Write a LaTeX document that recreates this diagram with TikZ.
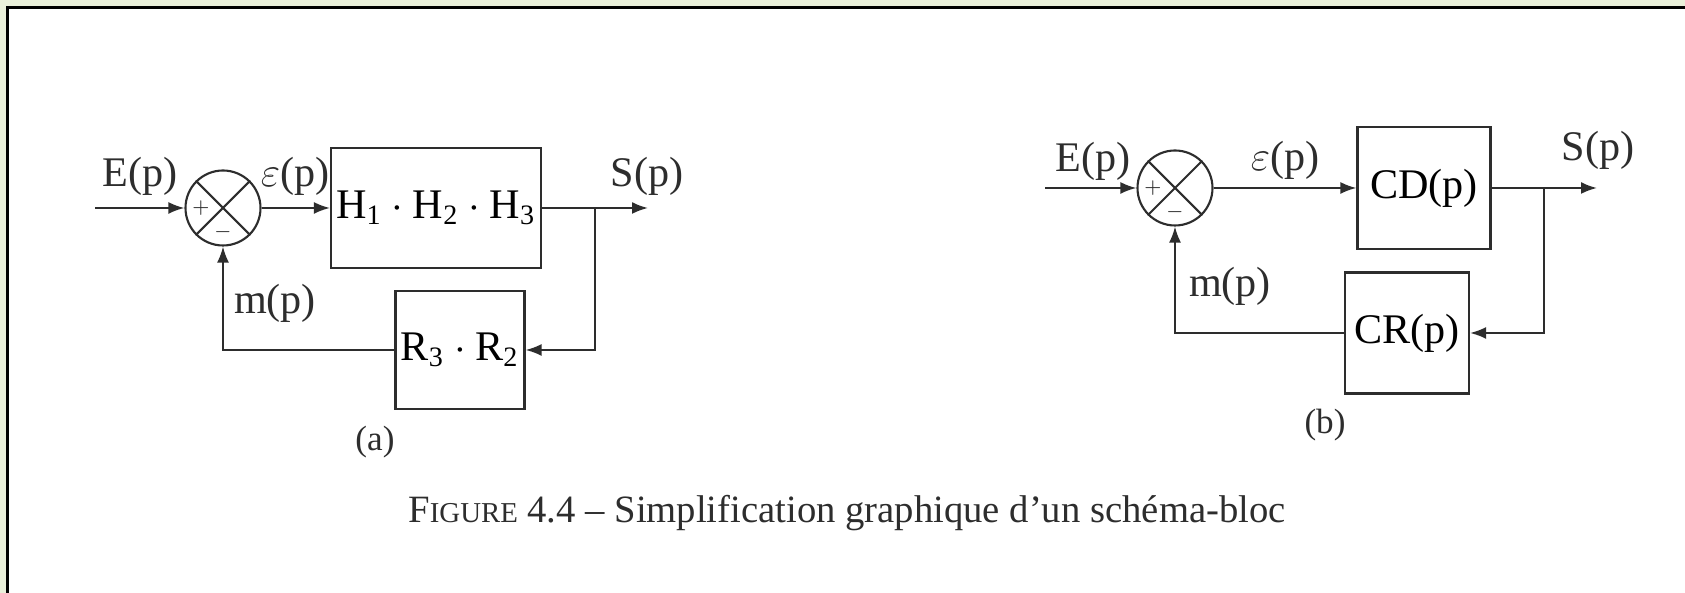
\documentclass[tikz,border=0pt]{standalone}
\usepackage{amsmath,amssymb}
\usepackage{fontspec}
\setmainfont{Liberation Serif}
\usepackage{xcolor}
\usepackage{tikz}
\usetikzlibrary{arrows.meta,positioning,calc}
\definecolor{pagegreen}{RGB}{234,240,218}
\definecolor{inkgray}{RGB}{45,45,45}
\newcommand{\fakesc}[2]{#1{\fontsize{8.2}{10}\selectfont #2}}
\tikzset{
	wire/.style={semithick, draw=inkgray},
	blk/.style={draw=inkgray, semithick, inner sep=0pt, align=center,
		font=\fontsize{12}{14}\selectfont},
	summ/.style={draw=inkgray, semithick, circle, inner sep=0pt, minimum size=7.5mm},
	sgn/.style={font=\tiny, inner sep=0pt, text=inkgray},
	lbl/.style={font=\fontsize{12}{14}\selectfont, inner sep=1pt, text=inkgray},
	sub/.style={font=\fontsize{10}{12}\selectfont, inner sep=1pt, text=inkgray},
}

\begin{document}
\begin{tikzpicture}[x=1cm, y=1cm, >={Latex[length=1.6mm,width=1.2mm]}]
	% page frame
	\useasboundingbox (0,0) rectangle (16.85,-5.93);
	\fill[pagegreen] (0,0) rectangle (16.85,-5.93);
	\fill[white] (0.073,-0.073) rectangle (16.9,-6.0);
	\draw[black, line width=0.75pt] (0.073,-6.0) -- (0.073,-0.073) -- (16.9,-0.073);
	% (a) loop with H1.H2.H3 and R3.R2
	\coordinate (ina) at (0.95,-2.08);
	\node[summ] at (2.23,-2.08) (suma) {};
	\node[blk, minimum width=2.10cm, minimum height=1.20cm] at (4.36,-2.08) (ha) {H\textsubscript{1}${}\cdot{}$H\textsubscript{2}${}\cdot{}$H\textsubscript{3}};
	\coordinate (bra) at (5.95,-2.08);
	\coordinate (outa) at (6.48,-2.08);
	\node[blk, minimum width=1.29cm, minimum height=1.18cm] at (4.60,-3.50) (ra) {R\textsubscript{3}${}\cdot{}$R\textsubscript{2}};
	\draw[wire] (suma.north west) -- (suma.south east) (suma.north east) -- (suma.south west);
	\node[sgn] at ($(suma.center)+(-0.22,0)$) (suma-p) {$+$};
	\node[sgn] at ($(suma.center)+(0,-0.24)$) (suma-m) {$-$};
	\draw[wire, ->] (ina) -- (suma.west);
	\draw[wire, ->] (suma.east) -- (ha.west);
	\draw[wire] (ha.east) -- (bra);
	\draw[wire, ->] (bra) -- (outa);
	\draw[wire, ->] (bra) |- (ra.east);
	\draw[wire, ->] (ra.west) -| (suma.south);
	\node[lbl] at (1.40,-1.76) (ea) {E(p)};
	\node[lbl] at (2.95,-1.76) (epsa) {$\varepsilon$(p)};
	\node[lbl] at (6.47,-1.76) (sa) {S(p)};
	\node[lbl] at (2.75,-3.03) (ma) {m(p)};
	\node[sub] at (3.75,-4.42) (capa) {(a)};
	% (b) loop with CD and CR
	\coordinate (inb) at (10.45,-1.88);
	\node[summ] at (11.75,-1.88) (sumb) {};
	\node[blk, minimum width=1.33cm, minimum height=1.22cm] at (14.24,-1.88) (cd) {CD(p)};
	\coordinate (brb) at (15.44,-1.88);
	\coordinate (outb) at (15.97,-1.88);
	\node[blk, minimum width=1.24cm, minimum height=1.21cm] at (14.07,-3.33) (cr) {CR(p)};
	\draw[wire] (sumb.north west) -- (sumb.south east) (sumb.north east) -- (sumb.south west);
	\node[sgn] at ($(sumb.center)+(-0.22,0)$) (sumb-p) {$+$};
	\node[sgn] at ($(sumb.center)+(0,-0.24)$) (sumb-m) {$-$};
	\draw[wire, ->] (inb) -- (sumb.west);
	\draw[wire, ->] (sumb.east) -- (cd.west);
	\draw[wire] (cd.east) -- (brb);
	\draw[wire, ->] (brb) -- (outb);
	\draw[wire, ->] (brb) |- (cr.east);
	\draw[wire, ->] (cr.west) -| (sumb.south);
	\node[lbl] at (10.93,-1.61) (eb) {E(p)};
	\node[lbl] at (12.85,-1.60) (epsb) {$\varepsilon$(p)};
	\node[lbl] at (15.98,-1.50) (sb) {S(p)};
	\node[lbl] at (12.30,-2.86) (mb) {m(p)};
	\node[sub] at (13.25,-4.25) (capb) {(b)};
	% caption
	\node[font=\fontsize{11}{13}\selectfont, text=inkgray] at (8.47,-5.13) (cap) {\fakesc{F}{IGURE} 4.4 – Simplification graphique d’un schéma-bloc};
\end{tikzpicture}
\end{document}
